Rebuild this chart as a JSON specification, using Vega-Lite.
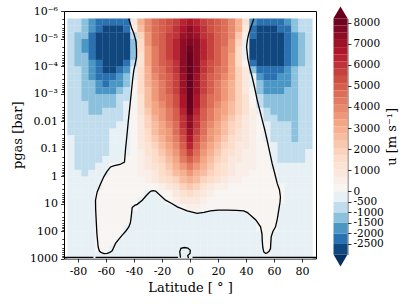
{
"$schema":"https://vega.github.io/schema/vega-lite/v6.json",
"background":"white",
"padding":{"left":11,"top":4,"right":0,"bottom":0},
"bounds":"flush",
"spacing":17.5,
"config":{"font":"DejaVu Serif","view":{"stroke":"#000","strokeWidth":1},
"axis":{"grid":false,"domain":false,"tickColor":"#000","labelColor":"#000","titleColor":"#000","titleFontWeight":"normal","labelFontSize":11,"titleFontSize":13,"tickSize":3.5,"tickWidth":0.8,"labelPadding":3,"labelOverlap":false}},
"resolve":{"scale":{"color":"independent"}},
"datasets":{
"field":[
{"lat":-85,"lp":-5.6,"u":-700},{"lat":-80,"lp":-5.6,"u":-900},{"lat":-75,"lp":-5.6,"u":-1250},{"lat":-70,"lp":-5.6,"u":-1700},{"lat":-65,"lp":-5.6,"u":-2200},{"lat":-60,"lp":-5.6,"u":-2300},{"lat":-55,"lp":-5.6,"u":-2400},{"lat":-50,"lp":-5.6,"u":-2400},{"lat":-45,"lp":-5.6,"u":-2200},{"lat":-40,"lp":-5.6,"u":900},{"lat":-35,"lp":-5.6,"u":2800},{"lat":-30,"lp":-5.6,"u":4000},{"lat":-25,"lp":-5.6,"u":4500},{"lat":-20,"lp":-5.6,"u":4900},{"lat":-15,"lp":-5.6,"u":5300},{"lat":-10,"lp":-5.6,"u":5800},{"lat":-5,"lp":-5.6,"u":6400},{"lat":0,"lp":-5.6,"u":6800},{"lat":5,"lp":-5.6,"u":6400},{"lat":10,"lp":-5.6,"u":5800},{"lat":15,"lp":-5.6,"u":5300},{"lat":20,"lp":-5.6,"u":4900},{"lat":25,"lp":-5.6,"u":4500},{"lat":30,"lp":-5.6,"u":4000},{"lat":35,"lp":-5.6,"u":2900},{"lat":40,"lp":-5.6,"u":1300},{"lat":45,"lp":-5.6,"u":-1800},{"lat":50,"lp":-5.6,"u":-2300},{"lat":55,"lp":-5.6,"u":-2400},{"lat":60,"lp":-5.6,"u":-2400},{"lat":65,"lp":-5.6,"u":-2250},{"lat":70,"lp":-5.6,"u":-1800},{"lat":75,"lp":-5.6,"u":-1300},{"lat":80,"lp":-5.6,"u":-900},{"lat":85,"lp":-5.6,"u":-600},
{"lat":-85,"lp":-5.35,"u":-750},{"lat":-80,"lp":-5.35,"u":-1000},{"lat":-75,"lp":-5.35,"u":-1400},{"lat":-70,"lp":-5.35,"u":-1900},{"lat":-65,"lp":-5.35,"u":-2450},{"lat":-60,"lp":-5.35,"u":-2600},{"lat":-55,"lp":-5.35,"u":-2650},{"lat":-50,"lp":-5.35,"u":-2600},{"lat":-45,"lp":-5.35,"u":-2300},{"lat":-40,"lp":-5.35,"u":500},{"lat":-35,"lp":-5.35,"u":2500},{"lat":-30,"lp":-5.35,"u":3900},{"lat":-25,"lp":-5.35,"u":4600},{"lat":-20,"lp":-5.35,"u":5000},{"lat":-15,"lp":-5.35,"u":5400},{"lat":-10,"lp":-5.35,"u":5900},{"lat":-5,"lp":-5.35,"u":6600},{"lat":0,"lp":-5.35,"u":7200},{"lat":5,"lp":-5.35,"u":6600},{"lat":10,"lp":-5.35,"u":5900},{"lat":15,"lp":-5.35,"u":5400},{"lat":20,"lp":-5.35,"u":5000},{"lat":25,"lp":-5.35,"u":4600},{"lat":30,"lp":-5.35,"u":4000},{"lat":35,"lp":-5.35,"u":2800},{"lat":40,"lp":-5.35,"u":800},{"lat":45,"lp":-5.35,"u":-2100},{"lat":50,"lp":-5.35,"u":-2550},{"lat":55,"lp":-5.35,"u":-2650},{"lat":60,"lp":-5.35,"u":-2650},{"lat":65,"lp":-5.35,"u":-2500},{"lat":70,"lp":-5.35,"u":-2100},{"lat":75,"lp":-5.35,"u":-1500},{"lat":80,"lp":-5.35,"u":-1000},{"lat":85,"lp":-5.35,"u":-650},
{"lat":-85,"lp":-5.1,"u":-800},{"lat":-80,"lp":-5.1,"u":-1050},{"lat":-75,"lp":-5.1,"u":-1500},{"lat":-70,"lp":-5.1,"u":-2050},{"lat":-65,"lp":-5.1,"u":-2600},{"lat":-60,"lp":-5.1,"u":-2800},{"lat":-55,"lp":-5.1,"u":-2850},{"lat":-50,"lp":-5.1,"u":-2800},{"lat":-45,"lp":-5.1,"u":-2550},{"lat":-40,"lp":-5.1,"u":-900},{"lat":-35,"lp":-5.1,"u":1800},{"lat":-30,"lp":-5.1,"u":3600},{"lat":-25,"lp":-5.1,"u":4500},{"lat":-20,"lp":-5.1,"u":5100},{"lat":-15,"lp":-5.1,"u":5600},{"lat":-10,"lp":-5.1,"u":6100},{"lat":-5,"lp":-5.1,"u":6900},{"lat":0,"lp":-5.1,"u":7500},{"lat":5,"lp":-5.1,"u":6900},{"lat":10,"lp":-5.1,"u":6100},{"lat":15,"lp":-5.1,"u":5600},{"lat":20,"lp":-5.1,"u":5100},{"lat":25,"lp":-5.1,"u":4600},{"lat":30,"lp":-5.1,"u":3800},{"lat":35,"lp":-5.1,"u":2200},{"lat":40,"lp":-5.1,"u":400},{"lat":45,"lp":-5.1,"u":-2400},{"lat":50,"lp":-5.1,"u":-2800},{"lat":55,"lp":-5.1,"u":-2850},{"lat":60,"lp":-5.1,"u":-2850},{"lat":65,"lp":-5.1,"u":-2700},{"lat":70,"lp":-5.1,"u":-2300},{"lat":75,"lp":-5.1,"u":-1700},{"lat":80,"lp":-5.1,"u":-1150},{"lat":85,"lp":-5.1,"u":-700},
{"lat":-85,"lp":-4.85,"u":-800},{"lat":-80,"lp":-4.85,"u":-1100},{"lat":-75,"lp":-4.85,"u":-1550},{"lat":-70,"lp":-4.85,"u":-2100},{"lat":-65,"lp":-4.85,"u":-2650},{"lat":-60,"lp":-4.85,"u":-2900},{"lat":-55,"lp":-4.85,"u":-2950},{"lat":-50,"lp":-4.85,"u":-2900},{"lat":-45,"lp":-4.85,"u":-2700},{"lat":-40,"lp":-4.85,"u":-1300},{"lat":-35,"lp":-4.85,"u":1500},{"lat":-30,"lp":-4.85,"u":3500},{"lat":-25,"lp":-4.85,"u":4500},{"lat":-20,"lp":-4.85,"u":5100},{"lat":-15,"lp":-4.85,"u":5700},{"lat":-10,"lp":-4.85,"u":6300},{"lat":-5,"lp":-4.85,"u":7200},{"lat":0,"lp":-4.85,"u":7800},{"lat":5,"lp":-4.85,"u":7200},{"lat":10,"lp":-4.85,"u":6300},{"lat":15,"lp":-4.85,"u":5700},{"lat":20,"lp":-4.85,"u":5100},{"lat":25,"lp":-4.85,"u":4500},{"lat":30,"lp":-4.85,"u":3600},{"lat":35,"lp":-4.85,"u":1800},{"lat":40,"lp":-4.85,"u":-100},{"lat":45,"lp":-4.85,"u":-2600},{"lat":50,"lp":-4.85,"u":-2900},{"lat":55,"lp":-4.85,"u":-2950},{"lat":60,"lp":-4.85,"u":-2950},{"lat":65,"lp":-4.85,"u":-2800},{"lat":70,"lp":-4.85,"u":-2400},{"lat":75,"lp":-4.85,"u":-1750},{"lat":80,"lp":-4.85,"u":-1200},{"lat":85,"lp":-4.85,"u":-750},
{"lat":-85,"lp":-4.6,"u":-800},{"lat":-80,"lp":-4.6,"u":-1100},{"lat":-75,"lp":-4.6,"u":-1550},{"lat":-70,"lp":-4.6,"u":-2100},{"lat":-65,"lp":-4.6,"u":-2650},{"lat":-60,"lp":-4.6,"u":-2950},{"lat":-55,"lp":-4.6,"u":-2950},{"lat":-50,"lp":-4.6,"u":-2950},{"lat":-45,"lp":-4.6,"u":-2750},{"lat":-40,"lp":-4.6,"u":-1400},{"lat":-35,"lp":-4.6,"u":1400},{"lat":-30,"lp":-4.6,"u":3400},{"lat":-25,"lp":-4.6,"u":4400},{"lat":-20,"lp":-4.6,"u":5000},{"lat":-15,"lp":-4.6,"u":5600},{"lat":-10,"lp":-4.6,"u":6300},{"lat":-5,"lp":-4.6,"u":7300},{"lat":0,"lp":-4.6,"u":8100},{"lat":5,"lp":-4.6,"u":7300},{"lat":10,"lp":-4.6,"u":6300},{"lat":15,"lp":-4.6,"u":5600},{"lat":20,"lp":-4.6,"u":5000},{"lat":25,"lp":-4.6,"u":4400},{"lat":30,"lp":-4.6,"u":3500},{"lat":35,"lp":-4.6,"u":1700},{"lat":40,"lp":-4.6,"u":-200},{"lat":45,"lp":-4.6,"u":-2700},{"lat":50,"lp":-4.6,"u":-2950},{"lat":55,"lp":-4.6,"u":-2950},{"lat":60,"lp":-4.6,"u":-2950},{"lat":65,"lp":-4.6,"u":-2850},{"lat":70,"lp":-4.6,"u":-2400},{"lat":75,"lp":-4.6,"u":-1750},{"lat":80,"lp":-4.6,"u":-1200},{"lat":85,"lp":-4.6,"u":-750},
{"lat":-85,"lp":-4.35,"u":-800},{"lat":-80,"lp":-4.35,"u":-1100},{"lat":-75,"lp":-4.35,"u":-1500},{"lat":-70,"lp":-4.35,"u":-2050},{"lat":-65,"lp":-4.35,"u":-2600},{"lat":-60,"lp":-4.35,"u":-2900},{"lat":-55,"lp":-4.35,"u":-2950},{"lat":-50,"lp":-4.35,"u":-2900},{"lat":-45,"lp":-4.35,"u":-2650},{"lat":-40,"lp":-4.35,"u":-1200},{"lat":-35,"lp":-4.35,"u":1300},{"lat":-30,"lp":-4.35,"u":3300},{"lat":-25,"lp":-4.35,"u":4300},{"lat":-20,"lp":-4.35,"u":4900},{"lat":-15,"lp":-4.35,"u":5500},{"lat":-10,"lp":-4.35,"u":6200},{"lat":-5,"lp":-4.35,"u":7300},{"lat":0,"lp":-4.35,"u":8300},{"lat":5,"lp":-4.35,"u":7300},{"lat":10,"lp":-4.35,"u":6200},{"lat":15,"lp":-4.35,"u":5500},{"lat":20,"lp":-4.35,"u":4900},{"lat":25,"lp":-4.35,"u":4300},{"lat":30,"lp":-4.35,"u":3400},{"lat":35,"lp":-4.35,"u":1600},{"lat":40,"lp":-4.35,"u":-300},{"lat":45,"lp":-4.35,"u":-2650},{"lat":50,"lp":-4.35,"u":-2950},{"lat":55,"lp":-4.35,"u":-2950},{"lat":60,"lp":-4.35,"u":-2950},{"lat":65,"lp":-4.35,"u":-2750},{"lat":70,"lp":-4.35,"u":-2300},{"lat":75,"lp":-4.35,"u":-1700},{"lat":80,"lp":-4.35,"u":-1150},{"lat":85,"lp":-4.35,"u":-750},
{"lat":-85,"lp":-4.1,"u":-750},{"lat":-80,"lp":-4.1,"u":-1050},{"lat":-75,"lp":-4.1,"u":-1450},{"lat":-70,"lp":-4.1,"u":-1950},{"lat":-65,"lp":-4.1,"u":-2500},{"lat":-60,"lp":-4.1,"u":-2800},{"lat":-55,"lp":-4.1,"u":-2800},{"lat":-50,"lp":-4.1,"u":-2700},{"lat":-45,"lp":-4.1,"u":-2350},{"lat":-40,"lp":-4.1,"u":-800},{"lat":-35,"lp":-4.1,"u":1300},{"lat":-30,"lp":-4.1,"u":3100},{"lat":-25,"lp":-4.1,"u":4200},{"lat":-20,"lp":-4.1,"u":4800},{"lat":-15,"lp":-4.1,"u":5300},{"lat":-10,"lp":-4.1,"u":6000},{"lat":-5,"lp":-4.1,"u":7200},{"lat":0,"lp":-4.1,"u":8400},{"lat":5,"lp":-4.1,"u":7200},{"lat":10,"lp":-4.1,"u":6000},{"lat":15,"lp":-4.1,"u":5300},{"lat":20,"lp":-4.1,"u":4800},{"lat":25,"lp":-4.1,"u":4200},{"lat":30,"lp":-4.1,"u":3200},{"lat":35,"lp":-4.1,"u":1700},{"lat":40,"lp":-4.1,"u":200},{"lat":45,"lp":-4.1,"u":-2300},{"lat":50,"lp":-4.1,"u":-2800},{"lat":55,"lp":-4.1,"u":-2850},{"lat":60,"lp":-4.1,"u":-2850},{"lat":65,"lp":-4.1,"u":-2650},{"lat":70,"lp":-4.1,"u":-2200},{"lat":75,"lp":-4.1,"u":-1600},{"lat":80,"lp":-4.1,"u":-1100},{"lat":85,"lp":-4.1,"u":-700},
{"lat":-85,"lp":-3.85,"u":-700},{"lat":-80,"lp":-3.85,"u":-1000},{"lat":-75,"lp":-3.85,"u":-1350},{"lat":-70,"lp":-3.85,"u":-1800},{"lat":-65,"lp":-3.85,"u":-2350},{"lat":-60,"lp":-3.85,"u":-2600},{"lat":-55,"lp":-3.85,"u":-2550},{"lat":-50,"lp":-3.85,"u":-2350},{"lat":-45,"lp":-3.85,"u":-1800},{"lat":-40,"lp":-3.85,"u":-300},{"lat":-35,"lp":-3.85,"u":1400},{"lat":-30,"lp":-3.85,"u":3000},{"lat":-25,"lp":-3.85,"u":4100},{"lat":-20,"lp":-3.85,"u":4700},{"lat":-15,"lp":-3.85,"u":5200},{"lat":-10,"lp":-3.85,"u":5900},{"lat":-5,"lp":-3.85,"u":7200},{"lat":0,"lp":-3.85,"u":8500},{"lat":5,"lp":-3.85,"u":7200},{"lat":10,"lp":-3.85,"u":5900},{"lat":15,"lp":-3.85,"u":5200},{"lat":20,"lp":-3.85,"u":4700},{"lat":25,"lp":-3.85,"u":4100},{"lat":30,"lp":-3.85,"u":3200},{"lat":35,"lp":-3.85,"u":2000},{"lat":40,"lp":-3.85,"u":700},{"lat":45,"lp":-3.85,"u":-1200},{"lat":50,"lp":-3.85,"u":-2300},{"lat":55,"lp":-3.85,"u":-2450},{"lat":60,"lp":-3.85,"u":-2450},{"lat":65,"lp":-3.85,"u":-2300},{"lat":70,"lp":-3.85,"u":-2000},{"lat":75,"lp":-3.85,"u":-1500},{"lat":80,"lp":-3.85,"u":-1000},{"lat":85,"lp":-3.85,"u":-650},
{"lat":-85,"lp":-3.6,"u":-650},{"lat":-80,"lp":-3.6,"u":-950},{"lat":-75,"lp":-3.6,"u":-1250},{"lat":-70,"lp":-3.6,"u":-1650},{"lat":-65,"lp":-3.6,"u":-2150},{"lat":-60,"lp":-3.6,"u":-2300},{"lat":-55,"lp":-3.6,"u":-2250},{"lat":-50,"lp":-3.6,"u":-2000},{"lat":-45,"lp":-3.6,"u":-1400},{"lat":-40,"lp":-3.6,"u":-100},{"lat":-35,"lp":-3.6,"u":1400},{"lat":-30,"lp":-3.6,"u":2900},{"lat":-25,"lp":-3.6,"u":3900},{"lat":-20,"lp":-3.6,"u":4500},{"lat":-15,"lp":-3.6,"u":5000},{"lat":-10,"lp":-3.6,"u":5700},{"lat":-5,"lp":-3.6,"u":7100},{"lat":0,"lp":-3.6,"u":8500},{"lat":5,"lp":-3.6,"u":7100},{"lat":10,"lp":-3.6,"u":5700},{"lat":15,"lp":-3.6,"u":5000},{"lat":20,"lp":-3.6,"u":4500},{"lat":25,"lp":-3.6,"u":3900},{"lat":30,"lp":-3.6,"u":3100},{"lat":35,"lp":-3.6,"u":2000},{"lat":40,"lp":-3.6,"u":800},{"lat":45,"lp":-3.6,"u":-500},{"lat":50,"lp":-3.6,"u":-1800},{"lat":55,"lp":-3.6,"u":-2100},{"lat":60,"lp":-3.6,"u":-2100},{"lat":65,"lp":-3.6,"u":-2000},{"lat":70,"lp":-3.6,"u":-1750},{"lat":75,"lp":-3.6,"u":-1400},{"lat":80,"lp":-3.6,"u":-950},{"lat":85,"lp":-3.6,"u":-600},
{"lat":-85,"lp":-3.35,"u":-600},{"lat":-80,"lp":-3.35,"u":-900},{"lat":-75,"lp":-3.35,"u":-1150},{"lat":-70,"lp":-3.35,"u":-1500},{"lat":-65,"lp":-3.35,"u":-1950},{"lat":-60,"lp":-3.35,"u":-2050},{"lat":-55,"lp":-3.35,"u":-1950},{"lat":-50,"lp":-3.35,"u":-1700},{"lat":-45,"lp":-3.35,"u":-1100},{"lat":-40,"lp":-3.35,"u":100},{"lat":-35,"lp":-3.35,"u":1400},{"lat":-30,"lp":-3.35,"u":2800},{"lat":-25,"lp":-3.35,"u":3700},{"lat":-20,"lp":-3.35,"u":4300},{"lat":-15,"lp":-3.35,"u":4900},{"lat":-10,"lp":-3.35,"u":5600},{"lat":-5,"lp":-3.35,"u":7000},{"lat":0,"lp":-3.35,"u":8500},{"lat":5,"lp":-3.35,"u":7000},{"lat":10,"lp":-3.35,"u":5600},{"lat":15,"lp":-3.35,"u":4900},{"lat":20,"lp":-3.35,"u":4300},{"lat":25,"lp":-3.35,"u":3700},{"lat":30,"lp":-3.35,"u":3000},{"lat":35,"lp":-3.35,"u":2000},{"lat":40,"lp":-3.35,"u":1000},{"lat":45,"lp":-3.35,"u":-100},{"lat":50,"lp":-3.35,"u":-1500},{"lat":55,"lp":-3.35,"u":-1850},{"lat":60,"lp":-3.35,"u":-1900},{"lat":65,"lp":-3.35,"u":-1800},{"lat":70,"lp":-3.35,"u":-1600},{"lat":75,"lp":-3.35,"u":-1250},{"lat":80,"lp":-3.35,"u":-900},{"lat":85,"lp":-3.35,"u":-600},
{"lat":-85,"lp":-3.1,"u":-600},{"lat":-80,"lp":-3.1,"u":-850},{"lat":-75,"lp":-3.1,"u":-1100},{"lat":-70,"lp":-3.1,"u":-1400},{"lat":-65,"lp":-3.1,"u":-1700},{"lat":-60,"lp":-3.1,"u":-1750},{"lat":-55,"lp":-3.1,"u":-1600},{"lat":-50,"lp":-3.1,"u":-1350},{"lat":-45,"lp":-3.1,"u":-800},{"lat":-40,"lp":-3.1,"u":250},{"lat":-35,"lp":-3.1,"u":1400},{"lat":-30,"lp":-3.1,"u":2700},{"lat":-25,"lp":-3.1,"u":3600},{"lat":-20,"lp":-3.1,"u":4200},{"lat":-15,"lp":-3.1,"u":4800},{"lat":-10,"lp":-3.1,"u":5500},{"lat":-5,"lp":-3.1,"u":6900},{"lat":0,"lp":-3.1,"u":8400},{"lat":5,"lp":-3.1,"u":6900},{"lat":10,"lp":-3.1,"u":5500},{"lat":15,"lp":-3.1,"u":4800},{"lat":20,"lp":-3.1,"u":4200},{"lat":25,"lp":-3.1,"u":3600},{"lat":30,"lp":-3.1,"u":2900},{"lat":35,"lp":-3.1,"u":2000},{"lat":40,"lp":-3.1,"u":1000},{"lat":45,"lp":-3.1,"u":100},{"lat":50,"lp":-3.1,"u":-1200},{"lat":55,"lp":-3.1,"u":-1600},{"lat":60,"lp":-3.1,"u":-1700},{"lat":65,"lp":-3.1,"u":-1650},{"lat":70,"lp":-3.1,"u":-1500},{"lat":75,"lp":-3.1,"u":-1200},{"lat":80,"lp":-3.1,"u":-850},{"lat":85,"lp":-3.1,"u":-600},
{"lat":-85,"lp":-2.85,"u":-550},{"lat":-80,"lp":-2.85,"u":-800},{"lat":-75,"lp":-2.85,"u":-1050},{"lat":-70,"lp":-2.85,"u":-1300},{"lat":-65,"lp":-2.85,"u":-1500},{"lat":-60,"lp":-2.85,"u":-1450},{"lat":-55,"lp":-2.85,"u":-1300},{"lat":-50,"lp":-2.85,"u":-1000},{"lat":-45,"lp":-2.85,"u":-600},{"lat":-40,"lp":-2.85,"u":300},{"lat":-35,"lp":-2.85,"u":1300},{"lat":-30,"lp":-2.85,"u":2600},{"lat":-25,"lp":-2.85,"u":3500},{"lat":-20,"lp":-2.85,"u":4100},{"lat":-15,"lp":-2.85,"u":4700},{"lat":-10,"lp":-2.85,"u":5400},{"lat":-5,"lp":-2.85,"u":6800},{"lat":0,"lp":-2.85,"u":8300},{"lat":5,"lp":-2.85,"u":6800},{"lat":10,"lp":-2.85,"u":5400},{"lat":15,"lp":-2.85,"u":4700},{"lat":20,"lp":-2.85,"u":4100},{"lat":25,"lp":-2.85,"u":3500},{"lat":30,"lp":-2.85,"u":2800},{"lat":35,"lp":-2.85,"u":2000},{"lat":40,"lp":-2.85,"u":1100},{"lat":45,"lp":-2.85,"u":250},{"lat":50,"lp":-2.85,"u":-900},{"lat":55,"lp":-2.85,"u":-1350},{"lat":60,"lp":-2.85,"u":-1500},{"lat":65,"lp":-2.85,"u":-1500},{"lat":70,"lp":-2.85,"u":-1400},{"lat":75,"lp":-2.85,"u":-1150},{"lat":80,"lp":-2.85,"u":-800},{"lat":85,"lp":-2.85,"u":-550},
{"lat":-85,"lp":-2.6,"u":-550},{"lat":-80,"lp":-2.6,"u":-800},{"lat":-75,"lp":-2.6,"u":-1000},{"lat":-70,"lp":-2.6,"u":-1200},{"lat":-65,"lp":-2.6,"u":-1300},{"lat":-60,"lp":-2.6,"u":-1250},{"lat":-55,"lp":-2.6,"u":-1050},{"lat":-50,"lp":-2.6,"u":-800},{"lat":-45,"lp":-2.6,"u":-450},{"lat":-40,"lp":-2.6,"u":300},{"lat":-35,"lp":-2.6,"u":1200},{"lat":-30,"lp":-2.6,"u":2400},{"lat":-25,"lp":-2.6,"u":3300},{"lat":-20,"lp":-2.6,"u":3900},{"lat":-15,"lp":-2.6,"u":4500},{"lat":-10,"lp":-2.6,"u":5300},{"lat":-5,"lp":-2.6,"u":6700},{"lat":0,"lp":-2.6,"u":8200},{"lat":5,"lp":-2.6,"u":6700},{"lat":10,"lp":-2.6,"u":5300},{"lat":15,"lp":-2.6,"u":4500},{"lat":20,"lp":-2.6,"u":3900},{"lat":25,"lp":-2.6,"u":3300},{"lat":30,"lp":-2.6,"u":2600},{"lat":35,"lp":-2.6,"u":1900},{"lat":40,"lp":-2.6,"u":1100},{"lat":45,"lp":-2.6,"u":300},{"lat":50,"lp":-2.6,"u":-600},{"lat":55,"lp":-2.6,"u":-1100},{"lat":60,"lp":-2.6,"u":-1300},{"lat":65,"lp":-2.6,"u":-1350},{"lat":70,"lp":-2.6,"u":-1300},{"lat":75,"lp":-2.6,"u":-1100},{"lat":80,"lp":-2.6,"u":-800},{"lat":85,"lp":-2.6,"u":-550},
{"lat":-85,"lp":-2.35,"u":-550},{"lat":-80,"lp":-2.35,"u":-780},{"lat":-75,"lp":-2.35,"u":-950},{"lat":-70,"lp":-2.35,"u":-1080},{"lat":-65,"lp":-2.35,"u":-1100},{"lat":-60,"lp":-2.35,"u":-1000},{"lat":-55,"lp":-2.35,"u":-850},{"lat":-50,"lp":-2.35,"u":-650},{"lat":-45,"lp":-2.35,"u":-350},{"lat":-40,"lp":-2.35,"u":300},{"lat":-35,"lp":-2.35,"u":1100},{"lat":-30,"lp":-2.35,"u":2200},{"lat":-25,"lp":-2.35,"u":3100},{"lat":-20,"lp":-2.35,"u":3700},{"lat":-15,"lp":-2.35,"u":4300},{"lat":-10,"lp":-2.35,"u":5100},{"lat":-5,"lp":-2.35,"u":6400},{"lat":0,"lp":-2.35,"u":7900},{"lat":5,"lp":-2.35,"u":6400},{"lat":10,"lp":-2.35,"u":5100},{"lat":15,"lp":-2.35,"u":4300},{"lat":20,"lp":-2.35,"u":3700},{"lat":25,"lp":-2.35,"u":3100},{"lat":30,"lp":-2.35,"u":2400},{"lat":35,"lp":-2.35,"u":1800},{"lat":40,"lp":-2.35,"u":1100},{"lat":45,"lp":-2.35,"u":400},{"lat":50,"lp":-2.35,"u":-100},{"lat":55,"lp":-2.35,"u":-900},{"lat":60,"lp":-2.35,"u":-1100},{"lat":65,"lp":-2.35,"u":-1200},{"lat":70,"lp":-2.35,"u":-1200},{"lat":75,"lp":-2.35,"u":-1050},{"lat":80,"lp":-2.35,"u":-800},{"lat":85,"lp":-2.35,"u":-550},
{"lat":-85,"lp":-2.1,"u":-550},{"lat":-80,"lp":-2.1,"u":-750},{"lat":-75,"lp":-2.1,"u":-850},{"lat":-70,"lp":-2.1,"u":-900},{"lat":-65,"lp":-2.1,"u":-900},{"lat":-60,"lp":-2.1,"u":-820},{"lat":-55,"lp":-2.1,"u":-700},{"lat":-50,"lp":-2.1,"u":-550},{"lat":-45,"lp":-2.1,"u":-250},{"lat":-40,"lp":-2.1,"u":300},{"lat":-35,"lp":-2.1,"u":1000},{"lat":-30,"lp":-2.1,"u":2000},{"lat":-25,"lp":-2.1,"u":2900},{"lat":-20,"lp":-2.1,"u":3500},{"lat":-15,"lp":-2.1,"u":4100},{"lat":-10,"lp":-2.1,"u":4900},{"lat":-5,"lp":-2.1,"u":6100},{"lat":0,"lp":-2.1,"u":7500},{"lat":5,"lp":-2.1,"u":6100},{"lat":10,"lp":-2.1,"u":4900},{"lat":15,"lp":-2.1,"u":4100},{"lat":20,"lp":-2.1,"u":3500},{"lat":25,"lp":-2.1,"u":2900},{"lat":30,"lp":-2.1,"u":2200},{"lat":35,"lp":-2.1,"u":1600},{"lat":40,"lp":-2.1,"u":1000},{"lat":45,"lp":-2.1,"u":400},{"lat":50,"lp":-2.1,"u":0},{"lat":55,"lp":-2.1,"u":-700},{"lat":60,"lp":-2.1,"u":-950},{"lat":65,"lp":-2.1,"u":-1050},{"lat":70,"lp":-2.1,"u":-1100},{"lat":75,"lp":-2.1,"u":-1100},{"lat":80,"lp":-2.1,"u":-800},{"lat":85,"lp":-2.1,"u":-550},
{"lat":-85,"lp":-1.85,"u":-550},{"lat":-80,"lp":-1.85,"u":-750},{"lat":-75,"lp":-1.85,"u":-800},{"lat":-70,"lp":-1.85,"u":-800},{"lat":-65,"lp":-1.85,"u":-760},{"lat":-60,"lp":-1.85,"u":-700},{"lat":-55,"lp":-1.85,"u":-600},{"lat":-50,"lp":-1.85,"u":-450},{"lat":-45,"lp":-1.85,"u":-200},{"lat":-40,"lp":-1.85,"u":300},{"lat":-35,"lp":-1.85,"u":900},{"lat":-30,"lp":-1.85,"u":1800},{"lat":-25,"lp":-1.85,"u":2600},{"lat":-20,"lp":-1.85,"u":3300},{"lat":-15,"lp":-1.85,"u":3900},{"lat":-10,"lp":-1.85,"u":4700},{"lat":-5,"lp":-1.85,"u":5900},{"lat":0,"lp":-1.85,"u":7200},{"lat":5,"lp":-1.85,"u":5900},{"lat":10,"lp":-1.85,"u":4700},{"lat":15,"lp":-1.85,"u":3900},{"lat":20,"lp":-1.85,"u":3300},{"lat":25,"lp":-1.85,"u":2600},{"lat":30,"lp":-1.85,"u":2000},{"lat":35,"lp":-1.85,"u":1500},{"lat":40,"lp":-1.85,"u":900},{"lat":45,"lp":-1.85,"u":400},{"lat":50,"lp":-1.85,"u":50},{"lat":55,"lp":-1.85,"u":-500},{"lat":60,"lp":-1.85,"u":-800},{"lat":65,"lp":-1.85,"u":-900},{"lat":70,"lp":-1.85,"u":-1000},{"lat":75,"lp":-1.85,"u":-1100},{"lat":80,"lp":-1.85,"u":-800},{"lat":85,"lp":-1.85,"u":-550},
{"lat":-85,"lp":-1.6,"u":-550},{"lat":-80,"lp":-1.6,"u":-700},{"lat":-75,"lp":-1.6,"u":-750},{"lat":-70,"lp":-1.6,"u":-700},{"lat":-65,"lp":-1.6,"u":-650},{"lat":-60,"lp":-1.6,"u":-600},{"lat":-55,"lp":-1.6,"u":-500},{"lat":-50,"lp":-1.6,"u":-350},{"lat":-45,"lp":-1.6,"u":-150},{"lat":-40,"lp":-1.6,"u":300},{"lat":-35,"lp":-1.6,"u":850},{"lat":-30,"lp":-1.6,"u":1600},{"lat":-25,"lp":-1.6,"u":2400},{"lat":-20,"lp":-1.6,"u":3100},{"lat":-15,"lp":-1.6,"u":3700},{"lat":-10,"lp":-1.6,"u":4500},{"lat":-5,"lp":-1.6,"u":5700},{"lat":0,"lp":-1.6,"u":6900},{"lat":5,"lp":-1.6,"u":5700},{"lat":10,"lp":-1.6,"u":4500},{"lat":15,"lp":-1.6,"u":3700},{"lat":20,"lp":-1.6,"u":3100},{"lat":25,"lp":-1.6,"u":2400},{"lat":30,"lp":-1.6,"u":1800},{"lat":35,"lp":-1.6,"u":1300},{"lat":40,"lp":-1.6,"u":850},{"lat":45,"lp":-1.6,"u":400},{"lat":50,"lp":-1.6,"u":100},{"lat":55,"lp":-1.6,"u":-350},{"lat":60,"lp":-1.6,"u":-700},{"lat":65,"lp":-1.6,"u":-800},{"lat":70,"lp":-1.6,"u":-950},{"lat":75,"lp":-1.6,"u":-1100},{"lat":80,"lp":-1.6,"u":-800},{"lat":85,"lp":-1.6,"u":-550},
{"lat":-85,"lp":-1.35,"u":-500},{"lat":-80,"lp":-1.35,"u":-700},{"lat":-75,"lp":-1.35,"u":-720},{"lat":-70,"lp":-1.35,"u":-680},{"lat":-65,"lp":-1.35,"u":-620},{"lat":-60,"lp":-1.35,"u":-550},{"lat":-55,"lp":-1.35,"u":-450},{"lat":-50,"lp":-1.35,"u":-300},{"lat":-45,"lp":-1.35,"u":-100},{"lat":-40,"lp":-1.35,"u":300},{"lat":-35,"lp":-1.35,"u":800},{"lat":-30,"lp":-1.35,"u":1400},{"lat":-25,"lp":-1.35,"u":2200},{"lat":-20,"lp":-1.35,"u":2900},{"lat":-15,"lp":-1.35,"u":3500},{"lat":-10,"lp":-1.35,"u":4300},{"lat":-5,"lp":-1.35,"u":5400},{"lat":0,"lp":-1.35,"u":6600},{"lat":5,"lp":-1.35,"u":5400},{"lat":10,"lp":-1.35,"u":4300},{"lat":15,"lp":-1.35,"u":3500},{"lat":20,"lp":-1.35,"u":2900},{"lat":25,"lp":-1.35,"u":2200},{"lat":30,"lp":-1.35,"u":1600},{"lat":35,"lp":-1.35,"u":1200},{"lat":40,"lp":-1.35,"u":800},{"lat":45,"lp":-1.35,"u":400},{"lat":50,"lp":-1.35,"u":150},{"lat":55,"lp":-1.35,"u":-50},{"lat":60,"lp":-1.35,"u":-600},{"lat":65,"lp":-1.35,"u":-750},{"lat":70,"lp":-1.35,"u":-900},{"lat":75,"lp":-1.35,"u":-1050},{"lat":80,"lp":-1.35,"u":-780},{"lat":85,"lp":-1.35,"u":-550},
{"lat":-85,"lp":-1.1,"u":-500},{"lat":-80,"lp":-1.1,"u":-680},{"lat":-75,"lp":-1.1,"u":-700},{"lat":-70,"lp":-1.1,"u":-650},{"lat":-65,"lp":-1.1,"u":-600},{"lat":-60,"lp":-1.1,"u":-530},{"lat":-55,"lp":-1.1,"u":-420},{"lat":-50,"lp":-1.1,"u":-250},{"lat":-45,"lp":-1.1,"u":-80},{"lat":-40,"lp":-1.1,"u":250},{"lat":-35,"lp":-1.1,"u":700},{"lat":-30,"lp":-1.1,"u":1200},{"lat":-25,"lp":-1.1,"u":2000},{"lat":-20,"lp":-1.1,"u":2600},{"lat":-15,"lp":-1.1,"u":3200},{"lat":-10,"lp":-1.1,"u":4000},{"lat":-5,"lp":-1.1,"u":5100},{"lat":0,"lp":-1.1,"u":6200},{"lat":5,"lp":-1.1,"u":5100},{"lat":10,"lp":-1.1,"u":4000},{"lat":15,"lp":-1.1,"u":3200},{"lat":20,"lp":-1.1,"u":2600},{"lat":25,"lp":-1.1,"u":2000},{"lat":30,"lp":-1.1,"u":1400},{"lat":35,"lp":-1.1,"u":1000},{"lat":40,"lp":-1.1,"u":700},{"lat":45,"lp":-1.1,"u":400},{"lat":50,"lp":-1.1,"u":200},{"lat":55,"lp":-1.1,"u":0},{"lat":60,"lp":-1.1,"u":-500},{"lat":65,"lp":-1.1,"u":-700},{"lat":70,"lp":-1.1,"u":-800},{"lat":75,"lp":-1.1,"u":-850},{"lat":80,"lp":-1.1,"u":-720},{"lat":85,"lp":-1.1,"u":-520},
{"lat":-85,"lp":-0.85,"u":-450},{"lat":-80,"lp":-0.85,"u":-650},{"lat":-75,"lp":-0.85,"u":-680},{"lat":-70,"lp":-0.85,"u":-640},{"lat":-65,"lp":-0.85,"u":-580},{"lat":-60,"lp":-0.85,"u":-520},{"lat":-55,"lp":-0.85,"u":-380},{"lat":-50,"lp":-0.85,"u":-200},{"lat":-45,"lp":-0.85,"u":-50},{"lat":-40,"lp":-0.85,"u":250},{"lat":-35,"lp":-0.85,"u":600},{"lat":-30,"lp":-0.85,"u":1050},{"lat":-25,"lp":-0.85,"u":1700},{"lat":-20,"lp":-0.85,"u":2300},{"lat":-15,"lp":-0.85,"u":2900},{"lat":-10,"lp":-0.85,"u":3600},{"lat":-5,"lp":-0.85,"u":4600},{"lat":0,"lp":-0.85,"u":5700},{"lat":5,"lp":-0.85,"u":4600},{"lat":10,"lp":-0.85,"u":3600},{"lat":15,"lp":-0.85,"u":2900},{"lat":20,"lp":-0.85,"u":2300},{"lat":25,"lp":-0.85,"u":1700},{"lat":30,"lp":-0.85,"u":1200},{"lat":35,"lp":-0.85,"u":850},{"lat":40,"lp":-0.85,"u":600},{"lat":45,"lp":-0.85,"u":400},{"lat":50,"lp":-0.85,"u":250},{"lat":55,"lp":-0.85,"u":50},{"lat":60,"lp":-0.85,"u":-400},{"lat":65,"lp":-0.85,"u":-650},{"lat":70,"lp":-0.85,"u":-750},{"lat":75,"lp":-0.85,"u":-750},{"lat":80,"lp":-0.85,"u":-680},{"lat":85,"lp":-0.85,"u":-500},
{"lat":-85,"lp":-0.6,"u":-420},{"lat":-80,"lp":-0.6,"u":-620},{"lat":-75,"lp":-0.6,"u":-660},{"lat":-70,"lp":-0.6,"u":-620},{"lat":-65,"lp":-0.6,"u":-560},{"lat":-60,"lp":-0.6,"u":-480},{"lat":-55,"lp":-0.6,"u":-300},{"lat":-50,"lp":-0.6,"u":-120},{"lat":-45,"lp":-0.6,"u":50},{"lat":-40,"lp":-0.6,"u":250},{"lat":-35,"lp":-0.6,"u":500},{"lat":-30,"lp":-0.6,"u":900},{"lat":-25,"lp":-0.6,"u":1450},{"lat":-20,"lp":-0.6,"u":2000},{"lat":-15,"lp":-0.6,"u":2600},{"lat":-10,"lp":-0.6,"u":3200},{"lat":-5,"lp":-0.6,"u":4100},{"lat":0,"lp":-0.6,"u":5100},{"lat":5,"lp":-0.6,"u":4100},{"lat":10,"lp":-0.6,"u":3200},{"lat":15,"lp":-0.6,"u":2600},{"lat":20,"lp":-0.6,"u":2000},{"lat":25,"lp":-0.6,"u":1500},{"lat":30,"lp":-0.6,"u":1000},{"lat":35,"lp":-0.6,"u":700},{"lat":40,"lp":-0.6,"u":500},{"lat":45,"lp":-0.6,"u":350},{"lat":50,"lp":-0.6,"u":300},{"lat":55,"lp":-0.6,"u":150},{"lat":60,"lp":-0.6,"u":-250},{"lat":65,"lp":-0.6,"u":-600},{"lat":70,"lp":-0.6,"u":-680},{"lat":75,"lp":-0.6,"u":-650},{"lat":80,"lp":-0.6,"u":-600},{"lat":85,"lp":-0.6,"u":-480},
{"lat":-85,"lp":-0.35,"u":-400},{"lat":-80,"lp":-0.35,"u":-560},{"lat":-75,"lp":-0.35,"u":-600},{"lat":-70,"lp":-0.35,"u":-540},{"lat":-65,"lp":-0.35,"u":-450},{"lat":-60,"lp":-0.35,"u":-250},{"lat":-55,"lp":-0.35,"u":30},{"lat":-50,"lp":-0.35,"u":150},{"lat":-45,"lp":-0.35,"u":200},{"lat":-40,"lp":-0.35,"u":250},{"lat":-35,"lp":-0.35,"u":450},{"lat":-30,"lp":-0.35,"u":750},{"lat":-25,"lp":-0.35,"u":1200},{"lat":-20,"lp":-0.35,"u":1700},{"lat":-15,"lp":-0.35,"u":2200},{"lat":-10,"lp":-0.35,"u":2800},{"lat":-5,"lp":-0.35,"u":3500},{"lat":0,"lp":-0.35,"u":4400},{"lat":5,"lp":-0.35,"u":3500},{"lat":10,"lp":-0.35,"u":2800},{"lat":15,"lp":-0.35,"u":2200},{"lat":20,"lp":-0.35,"u":1700},{"lat":25,"lp":-0.35,"u":1250},{"lat":30,"lp":-0.35,"u":850},{"lat":35,"lp":-0.35,"u":600},{"lat":40,"lp":-0.35,"u":450},{"lat":45,"lp":-0.35,"u":350},{"lat":50,"lp":-0.35,"u":320},{"lat":55,"lp":-0.35,"u":220},{"lat":60,"lp":-0.35,"u":-50},{"lat":65,"lp":-0.35,"u":-450},{"lat":70,"lp":-0.35,"u":-480},{"lat":75,"lp":-0.35,"u":-470},{"lat":80,"lp":-0.35,"u":-450},{"lat":85,"lp":-0.35,"u":-400},
{"lat":-85,"lp":-0.1,"u":-380},{"lat":-80,"lp":-0.1,"u":-480},{"lat":-75,"lp":-0.1,"u":-510},{"lat":-70,"lp":-0.1,"u":-470},{"lat":-65,"lp":-0.1,"u":-350},{"lat":-60,"lp":-0.1,"u":-50},{"lat":-55,"lp":-0.1,"u":100},{"lat":-50,"lp":-0.1,"u":180},{"lat":-45,"lp":-0.1,"u":200},{"lat":-40,"lp":-0.1,"u":250},{"lat":-35,"lp":-0.1,"u":400},{"lat":-30,"lp":-0.1,"u":620},{"lat":-25,"lp":-0.1,"u":1000},{"lat":-20,"lp":-0.1,"u":1400},{"lat":-15,"lp":-0.1,"u":1900},{"lat":-10,"lp":-0.1,"u":2400},{"lat":-5,"lp":-0.1,"u":3000},{"lat":0,"lp":-0.1,"u":3700},{"lat":5,"lp":-0.1,"u":3000},{"lat":10,"lp":-0.1,"u":2400},{"lat":15,"lp":-0.1,"u":1900},{"lat":20,"lp":-0.1,"u":1400},{"lat":25,"lp":-0.1,"u":1050},{"lat":30,"lp":-0.1,"u":700},{"lat":35,"lp":-0.1,"u":500},{"lat":40,"lp":-0.1,"u":400},{"lat":45,"lp":-0.1,"u":330},{"lat":50,"lp":-0.1,"u":320},{"lat":55,"lp":-0.1,"u":270},{"lat":60,"lp":-0.1,"u":50},{"lat":65,"lp":-0.1,"u":-300},{"lat":70,"lp":-0.1,"u":-380},{"lat":75,"lp":-0.1,"u":-380},{"lat":80,"lp":-0.1,"u":-360},{"lat":85,"lp":-0.1,"u":-320},
{"lat":-85,"lp":0.15,"u":-300},{"lat":-80,"lp":0.15,"u":-350},{"lat":-75,"lp":0.15,"u":-350},{"lat":-70,"lp":0.15,"u":-300},{"lat":-65,"lp":0.15,"u":-150},{"lat":-60,"lp":0.15,"u":80},{"lat":-55,"lp":0.15,"u":200},{"lat":-50,"lp":0.15,"u":200},{"lat":-45,"lp":0.15,"u":200},{"lat":-40,"lp":0.15,"u":220},{"lat":-35,"lp":0.15,"u":320},{"lat":-30,"lp":0.15,"u":480},{"lat":-25,"lp":0.15,"u":750},{"lat":-20,"lp":0.15,"u":1050},{"lat":-15,"lp":0.15,"u":1400},{"lat":-10,"lp":0.15,"u":1850},{"lat":-5,"lp":0.15,"u":2400},{"lat":0,"lp":0.15,"u":3000},{"lat":5,"lp":0.15,"u":2450},{"lat":10,"lp":0.15,"u":1900},{"lat":15,"lp":0.15,"u":1450},{"lat":20,"lp":0.15,"u":1100},{"lat":25,"lp":0.15,"u":800},{"lat":30,"lp":0.15,"u":550},{"lat":35,"lp":0.15,"u":400},{"lat":40,"lp":0.15,"u":320},{"lat":45,"lp":0.15,"u":300},{"lat":50,"lp":0.15,"u":300},{"lat":55,"lp":0.15,"u":280},{"lat":60,"lp":0.15,"u":130},{"lat":65,"lp":0.15,"u":-100},{"lat":70,"lp":0.15,"u":-250},{"lat":75,"lp":0.15,"u":-280},{"lat":80,"lp":0.15,"u":-280},{"lat":85,"lp":0.15,"u":-260},
{"lat":-85,"lp":0.4,"u":-250},{"lat":-80,"lp":0.4,"u":-280},{"lat":-75,"lp":0.4,"u":-270},{"lat":-70,"lp":0.4,"u":-220},{"lat":-65,"lp":0.4,"u":-60},{"lat":-60,"lp":0.4,"u":150},{"lat":-55,"lp":0.4,"u":250},{"lat":-50,"lp":0.4,"u":220},{"lat":-45,"lp":0.4,"u":180},{"lat":-40,"lp":0.4,"u":150},{"lat":-35,"lp":0.4,"u":120},{"lat":-30,"lp":0.4,"u":120},{"lat":-25,"lp":0.4,"u":250},{"lat":-20,"lp":0.4,"u":450},{"lat":-15,"lp":0.4,"u":700},{"lat":-10,"lp":0.4,"u":1200},{"lat":-5,"lp":0.4,"u":1750},{"lat":0,"lp":0.4,"u":2300},{"lat":5,"lp":0.4,"u":1800},{"lat":10,"lp":0.4,"u":1250},{"lat":15,"lp":0.4,"u":800},{"lat":20,"lp":0.4,"u":550},{"lat":25,"lp":0.4,"u":400},{"lat":30,"lp":0.4,"u":320},{"lat":35,"lp":0.4,"u":280},{"lat":40,"lp":0.4,"u":260},{"lat":45,"lp":0.4,"u":270},{"lat":50,"lp":0.4,"u":300},{"lat":55,"lp":0.4,"u":290},{"lat":60,"lp":0.4,"u":160},{"lat":65,"lp":0.4,"u":0},{"lat":70,"lp":0.4,"u":-200},{"lat":75,"lp":0.4,"u":-230},{"lat":80,"lp":0.4,"u":-240},{"lat":85,"lp":0.4,"u":-230},
{"lat":-85,"lp":0.65,"u":-220},{"lat":-80,"lp":0.65,"u":-240},{"lat":-75,"lp":0.65,"u":-220},{"lat":-70,"lp":0.65,"u":-150},{"lat":-65,"lp":0.65,"u":30},{"lat":-60,"lp":0.65,"u":220},{"lat":-55,"lp":0.65,"u":300},{"lat":-50,"lp":0.65,"u":220},{"lat":-45,"lp":0.65,"u":150},{"lat":-40,"lp":0.65,"u":100},{"lat":-35,"lp":0.65,"u":40},{"lat":-30,"lp":0.65,"u":-60},{"lat":-25,"lp":0.65,"u":-60},{"lat":-20,"lp":0.65,"u":40},{"lat":-15,"lp":0.65,"u":300},{"lat":-10,"lp":0.65,"u":700},{"lat":-5,"lp":0.65,"u":1200},{"lat":0,"lp":0.65,"u":1600},{"lat":5,"lp":0.65,"u":1250},{"lat":10,"lp":0.65,"u":800},{"lat":15,"lp":0.65,"u":450},{"lat":20,"lp":0.65,"u":300},{"lat":25,"lp":0.65,"u":250},{"lat":30,"lp":0.65,"u":230},{"lat":35,"lp":0.65,"u":220},{"lat":40,"lp":0.65,"u":220},{"lat":45,"lp":0.65,"u":250},{"lat":50,"lp":0.65,"u":290},{"lat":55,"lp":0.65,"u":300},{"lat":60,"lp":0.65,"u":200},{"lat":65,"lp":0.65,"u":50},{"lat":70,"lp":0.65,"u":-180},{"lat":75,"lp":0.65,"u":-210},{"lat":80,"lp":0.65,"u":-220},{"lat":85,"lp":0.65,"u":-210},
{"lat":-85,"lp":0.9,"u":-200},{"lat":-80,"lp":0.9,"u":-220},{"lat":-75,"lp":0.9,"u":-200},{"lat":-70,"lp":0.9,"u":-100},{"lat":-65,"lp":0.9,"u":80},{"lat":-60,"lp":0.9,"u":250},{"lat":-55,"lp":0.9,"u":320},{"lat":-50,"lp":0.9,"u":230},{"lat":-45,"lp":0.9,"u":150},{"lat":-40,"lp":0.9,"u":60},{"lat":-35,"lp":0.9,"u":-30},{"lat":-30,"lp":0.9,"u":-100},{"lat":-25,"lp":0.9,"u":-110},{"lat":-20,"lp":0.9,"u":-80},{"lat":-15,"lp":0.9,"u":50},{"lat":-10,"lp":0.9,"u":350},{"lat":-5,"lp":0.9,"u":700},{"lat":0,"lp":0.9,"u":1000},{"lat":5,"lp":0.9,"u":800},{"lat":10,"lp":0.9,"u":500},{"lat":15,"lp":0.9,"u":300},{"lat":20,"lp":0.9,"u":220},{"lat":25,"lp":0.9,"u":200},{"lat":30,"lp":0.9,"u":200},{"lat":35,"lp":0.9,"u":200},{"lat":40,"lp":0.9,"u":200},{"lat":45,"lp":0.9,"u":240},{"lat":50,"lp":0.9,"u":290},{"lat":55,"lp":0.9,"u":300},{"lat":60,"lp":0.9,"u":220},{"lat":65,"lp":0.9,"u":20},{"lat":70,"lp":0.9,"u":-150},{"lat":75,"lp":0.9,"u":-200},{"lat":80,"lp":0.9,"u":-200},{"lat":85,"lp":0.9,"u":-200},
{"lat":-85,"lp":1.15,"u":-180},{"lat":-80,"lp":1.15,"u":-200},{"lat":-75,"lp":1.15,"u":-180},{"lat":-70,"lp":1.15,"u":-80},{"lat":-65,"lp":1.15,"u":100},{"lat":-60,"lp":1.15,"u":270},{"lat":-55,"lp":1.15,"u":330},{"lat":-50,"lp":1.15,"u":230},{"lat":-45,"lp":1.15,"u":100},{"lat":-40,"lp":1.15,"u":0},{"lat":-35,"lp":1.15,"u":-120},{"lat":-30,"lp":1.15,"u":-130},{"lat":-25,"lp":1.15,"u":-130},{"lat":-20,"lp":1.15,"u":-130},{"lat":-15,"lp":1.15,"u":-100},{"lat":-10,"lp":1.15,"u":-10},{"lat":-5,"lp":1.15,"u":200},{"lat":0,"lp":1.15,"u":400},{"lat":5,"lp":1.15,"u":350},{"lat":10,"lp":1.15,"u":200},{"lat":15,"lp":1.15,"u":150},{"lat":20,"lp":1.15,"u":130},{"lat":25,"lp":1.15,"u":130},{"lat":30,"lp":1.15,"u":130},{"lat":35,"lp":1.15,"u":140},{"lat":40,"lp":1.15,"u":160},{"lat":45,"lp":1.15,"u":210},{"lat":50,"lp":1.15,"u":270},{"lat":55,"lp":1.15,"u":300},{"lat":60,"lp":1.15,"u":230},{"lat":65,"lp":1.15,"u":-50},{"lat":70,"lp":1.15,"u":-130},{"lat":75,"lp":1.15,"u":-180},{"lat":80,"lp":1.15,"u":-180},{"lat":85,"lp":1.15,"u":-180},
{"lat":-85,"lp":1.4,"u":-170},{"lat":-80,"lp":1.4,"u":-190},{"lat":-75,"lp":1.4,"u":-170},{"lat":-70,"lp":1.4,"u":-60},{"lat":-65,"lp":1.4,"u":110},{"lat":-60,"lp":1.4,"u":280},{"lat":-55,"lp":1.4,"u":330},{"lat":-50,"lp":1.4,"u":230},{"lat":-45,"lp":1.4,"u":80},{"lat":-40,"lp":1.4,"u":-80},{"lat":-35,"lp":1.4,"u":-140},{"lat":-30,"lp":1.4,"u":-150},{"lat":-25,"lp":1.4,"u":-150},{"lat":-20,"lp":1.4,"u":-150},{"lat":-15,"lp":1.4,"u":-150},{"lat":-10,"lp":1.4,"u":-130},{"lat":-5,"lp":1.4,"u":-60},{"lat":0,"lp":1.4,"u":-20},{"lat":5,"lp":1.4,"u":-30},{"lat":10,"lp":1.4,"u":-60},{"lat":15,"lp":1.4,"u":-80},{"lat":20,"lp":1.4,"u":-90},{"lat":25,"lp":1.4,"u":-90},{"lat":30,"lp":1.4,"u":-90},{"lat":35,"lp":1.4,"u":-80},{"lat":40,"lp":1.4,"u":-40},{"lat":45,"lp":1.4,"u":60},{"lat":50,"lp":1.4,"u":220},{"lat":55,"lp":1.4,"u":290},{"lat":60,"lp":1.4,"u":200},{"lat":65,"lp":1.4,"u":-60},{"lat":70,"lp":1.4,"u":-150},{"lat":75,"lp":1.4,"u":-170},{"lat":80,"lp":1.4,"u":-170},{"lat":85,"lp":1.4,"u":-170},
{"lat":-85,"lp":1.65,"u":-170},{"lat":-80,"lp":1.65,"u":-180},{"lat":-75,"lp":1.65,"u":-160},{"lat":-70,"lp":1.65,"u":-50},{"lat":-65,"lp":1.65,"u":110},{"lat":-60,"lp":1.65,"u":280},{"lat":-55,"lp":1.65,"u":320},{"lat":-50,"lp":1.65,"u":200},{"lat":-45,"lp":1.65,"u":40},{"lat":-40,"lp":1.65,"u":-100},{"lat":-35,"lp":1.65,"u":-150},{"lat":-30,"lp":1.65,"u":-160},{"lat":-25,"lp":1.65,"u":-160},{"lat":-20,"lp":1.65,"u":-160},{"lat":-15,"lp":1.65,"u":-160},{"lat":-10,"lp":1.65,"u":-150},{"lat":-5,"lp":1.65,"u":-120},{"lat":0,"lp":1.65,"u":-100},{"lat":5,"lp":1.65,"u":-100},{"lat":10,"lp":1.65,"u":-110},{"lat":15,"lp":1.65,"u":-120},{"lat":20,"lp":1.65,"u":-120},{"lat":25,"lp":1.65,"u":-120},{"lat":30,"lp":1.65,"u":-120},{"lat":35,"lp":1.65,"u":-110},{"lat":40,"lp":1.65,"u":-90},{"lat":45,"lp":1.65,"u":-20},{"lat":50,"lp":1.65,"u":150},{"lat":55,"lp":1.65,"u":250},{"lat":60,"lp":1.65,"u":150},{"lat":65,"lp":1.65,"u":-80},{"lat":70,"lp":1.65,"u":-150},{"lat":75,"lp":1.65,"u":-160},{"lat":80,"lp":1.65,"u":-160},{"lat":85,"lp":1.65,"u":-160},
{"lat":-85,"lp":1.9,"u":-160},{"lat":-80,"lp":1.9,"u":-170},{"lat":-75,"lp":1.9,"u":-150},{"lat":-70,"lp":1.9,"u":-40},{"lat":-65,"lp":1.9,"u":100},{"lat":-60,"lp":1.9,"u":260},{"lat":-55,"lp":1.9,"u":300},{"lat":-50,"lp":1.9,"u":150},{"lat":-45,"lp":1.9,"u":-10},{"lat":-40,"lp":1.9,"u":-110},{"lat":-35,"lp":1.9,"u":-150},{"lat":-30,"lp":1.9,"u":-160},{"lat":-25,"lp":1.9,"u":-160},{"lat":-20,"lp":1.9,"u":-160},{"lat":-15,"lp":1.9,"u":-160},{"lat":-10,"lp":1.9,"u":-150},{"lat":-5,"lp":1.9,"u":-130},{"lat":0,"lp":1.9,"u":-120},{"lat":5,"lp":1.9,"u":-120},{"lat":10,"lp":1.9,"u":-130},{"lat":15,"lp":1.9,"u":-130},{"lat":20,"lp":1.9,"u":-130},{"lat":25,"lp":1.9,"u":-130},{"lat":30,"lp":1.9,"u":-130},{"lat":35,"lp":1.9,"u":-120},{"lat":40,"lp":1.9,"u":-100},{"lat":45,"lp":1.9,"u":-60},{"lat":50,"lp":1.9,"u":60},{"lat":55,"lp":1.9,"u":220},{"lat":60,"lp":1.9,"u":80},{"lat":65,"lp":1.9,"u":-100},{"lat":70,"lp":1.9,"u":-150},{"lat":75,"lp":1.9,"u":-150},{"lat":80,"lp":1.9,"u":-150},{"lat":85,"lp":1.9,"u":-150},
{"lat":-85,"lp":2.15,"u":-150},{"lat":-80,"lp":2.15,"u":-160},{"lat":-75,"lp":2.15,"u":-140},{"lat":-70,"lp":2.15,"u":-40},{"lat":-65,"lp":2.15,"u":80},{"lat":-60,"lp":2.15,"u":200},{"lat":-55,"lp":2.15,"u":220},{"lat":-50,"lp":2.15,"u":60},{"lat":-45,"lp":2.15,"u":-80},{"lat":-40,"lp":2.15,"u":-110},{"lat":-35,"lp":2.15,"u":-140},{"lat":-30,"lp":2.15,"u":-150},{"lat":-25,"lp":2.15,"u":-150},{"lat":-20,"lp":2.15,"u":-150},{"lat":-15,"lp":2.15,"u":-150},{"lat":-10,"lp":2.15,"u":-140},{"lat":-5,"lp":2.15,"u":-130},{"lat":0,"lp":2.15,"u":-120},{"lat":5,"lp":2.15,"u":-120},{"lat":10,"lp":2.15,"u":-130},{"lat":15,"lp":2.15,"u":-130},{"lat":20,"lp":2.15,"u":-130},{"lat":25,"lp":2.15,"u":-130},{"lat":30,"lp":2.15,"u":-130},{"lat":35,"lp":2.15,"u":-120},{"lat":40,"lp":2.15,"u":-110},{"lat":45,"lp":2.15,"u":-80},{"lat":50,"lp":2.15,"u":-10},{"lat":55,"lp":2.15,"u":150},{"lat":60,"lp":2.15,"u":-30},{"lat":65,"lp":2.15,"u":-110},{"lat":70,"lp":2.15,"u":-140},{"lat":75,"lp":2.15,"u":-140},{"lat":80,"lp":2.15,"u":-140},{"lat":85,"lp":2.15,"u":-140},
{"lat":-85,"lp":2.4,"u":-140},{"lat":-80,"lp":2.4,"u":-150},{"lat":-75,"lp":2.4,"u":-130},{"lat":-70,"lp":2.4,"u":-40},{"lat":-65,"lp":2.4,"u":60},{"lat":-60,"lp":2.4,"u":150},{"lat":-55,"lp":2.4,"u":120},{"lat":-50,"lp":2.4,"u":-40},{"lat":-45,"lp":2.4,"u":-90},{"lat":-40,"lp":2.4,"u":-110},{"lat":-35,"lp":2.4,"u":-130},{"lat":-30,"lp":2.4,"u":-140},{"lat":-25,"lp":2.4,"u":-140},{"lat":-20,"lp":2.4,"u":-140},{"lat":-15,"lp":2.4,"u":-140},{"lat":-10,"lp":2.4,"u":-130},{"lat":-5,"lp":2.4,"u":-120},{"lat":0,"lp":2.4,"u":-110},{"lat":5,"lp":2.4,"u":-110},{"lat":10,"lp":2.4,"u":-120},{"lat":15,"lp":2.4,"u":-120},{"lat":20,"lp":2.4,"u":-120},{"lat":25,"lp":2.4,"u":-120},{"lat":30,"lp":2.4,"u":-120},{"lat":35,"lp":2.4,"u":-110},{"lat":40,"lp":2.4,"u":-100},{"lat":45,"lp":2.4,"u":-90},{"lat":50,"lp":2.4,"u":-20},{"lat":55,"lp":2.4,"u":100},{"lat":60,"lp":2.4,"u":-60},{"lat":65,"lp":2.4,"u":-110},{"lat":70,"lp":2.4,"u":-130},{"lat":75,"lp":2.4,"u":-130},{"lat":80,"lp":2.4,"u":-130},{"lat":85,"lp":2.4,"u":-130},
{"lat":-85,"lp":2.65,"u":-130},{"lat":-80,"lp":2.65,"u":-140},{"lat":-75,"lp":2.65,"u":-120},{"lat":-70,"lp":2.65,"u":-50},{"lat":-65,"lp":2.65,"u":20},{"lat":-60,"lp":2.65,"u":80},{"lat":-55,"lp":2.65,"u":-20},{"lat":-50,"lp":2.65,"u":-80},{"lat":-45,"lp":2.65,"u":-100},{"lat":-40,"lp":2.65,"u":-100},{"lat":-35,"lp":2.65,"u":-120},{"lat":-30,"lp":2.65,"u":-130},{"lat":-25,"lp":2.65,"u":-130},{"lat":-20,"lp":2.65,"u":-130},{"lat":-15,"lp":2.65,"u":-130},{"lat":-10,"lp":2.65,"u":-120},{"lat":-5,"lp":2.65,"u":-100},{"lat":0,"lp":2.65,"u":-90},{"lat":5,"lp":2.65,"u":-100},{"lat":10,"lp":2.65,"u":-110},{"lat":15,"lp":2.65,"u":-110},{"lat":20,"lp":2.65,"u":-110},{"lat":25,"lp":2.65,"u":-110},{"lat":30,"lp":2.65,"u":-110},{"lat":35,"lp":2.65,"u":-100},{"lat":40,"lp":2.65,"u":-100},{"lat":45,"lp":2.65,"u":-100},{"lat":50,"lp":2.65,"u":-60},{"lat":55,"lp":2.65,"u":50},{"lat":60,"lp":2.65,"u":-80},{"lat":65,"lp":2.65,"u":-100},{"lat":70,"lp":2.65,"u":-120},{"lat":75,"lp":2.65,"u":-120},{"lat":80,"lp":2.65,"u":-120},{"lat":85,"lp":2.65,"u":-120},
{"lat":-85,"lp":2.9,"u":-110},{"lat":-80,"lp":2.9,"u":-110},{"lat":-75,"lp":2.9,"u":-100},{"lat":-70,"lp":2.9,"u":-70},{"lat":-65,"lp":2.9,"u":-40},{"lat":-60,"lp":2.9,"u":-20},{"lat":-55,"lp":2.9,"u":-40},{"lat":-50,"lp":2.9,"u":-80},{"lat":-45,"lp":2.9,"u":-90},{"lat":-40,"lp":2.9,"u":-90},{"lat":-35,"lp":2.9,"u":-100},{"lat":-30,"lp":2.9,"u":-100},{"lat":-25,"lp":2.9,"u":-100},{"lat":-20,"lp":2.9,"u":-100},{"lat":-15,"lp":2.9,"u":-100},{"lat":-10,"lp":2.9,"u":-90},{"lat":-5,"lp":2.9,"u":-60},{"lat":0,"lp":2.9,"u":-50},{"lat":5,"lp":2.9,"u":-70},{"lat":10,"lp":2.9,"u":-90},{"lat":15,"lp":2.9,"u":-100},{"lat":20,"lp":2.9,"u":-100},{"lat":25,"lp":2.9,"u":-100},{"lat":30,"lp":2.9,"u":-100},{"lat":35,"lp":2.9,"u":-90},{"lat":40,"lp":2.9,"u":-90},{"lat":45,"lp":2.9,"u":-90},{"lat":50,"lp":2.9,"u":-60},{"lat":55,"lp":2.9,"u":-20},{"lat":60,"lp":2.9,"u":-60},{"lat":65,"lp":2.9,"u":-90},{"lat":70,"lp":2.9,"u":-100},{"lat":75,"lp":2.9,"u":-100},{"lat":80,"lp":2.9,"u":-100},{"lat":85,"lp":2.9,"u":-100}
],
"contour":[
{"seg":"a","i":1,"lat":-43.7,"lp":-5.72},{"seg":"a","i":2,"lat":-41.5,"lp":-5.35},{"seg":"a","i":3,"lat":-40.1,"lp":-5.18},{"seg":"a","i":4,"lat":-38.6,"lp":-4.9},{"seg":"a","i":5,"lat":-38.2,"lp":-4.6},{"seg":"a","i":6,"lat":-38.2,"lp":-4.33},{"seg":"a","i":7,"lat":-39.0,"lp":-4.1},{"seg":"a","i":8,"lat":-40.1,"lp":-3.85},{"seg":"a","i":9,"lat":-41.0,"lp":-3.5},{"seg":"a","i":10,"lat":-42.0,"lp":-3.0},{"seg":"a","i":11,"lat":-43.0,"lp":-2.5},{"seg":"a","i":12,"lat":-44.0,"lp":-2.03},{"seg":"a","i":13,"lat":-45.0,"lp":-1.5},{"seg":"a","i":14,"lat":-46.0,"lp":-1.0},{"seg":"a","i":15,"lat":-46.8,"lp":-0.51},{"seg":"a","i":16,"lat":-50.0,"lp":-0.42},{"seg":"a","i":17,"lat":-54.0,"lp":-0.38},{"seg":"a","i":18,"lat":-56.8,"lp":-0.33},{"seg":"a","i":19,"lat":-59.5,"lp":-0.15},{"seg":"a","i":20,"lat":-61.6,"lp":0.03},{"seg":"a","i":21,"lat":-64.0,"lp":0.3},{"seg":"a","i":22,"lat":-66.3,"lp":0.58},{"seg":"a","i":23,"lat":-67.5,"lp":0.88},{"seg":"a","i":24,"lat":-67.4,"lp":1.2},{"seg":"a","i":25,"lat":-67.0,"lp":1.61},{"seg":"a","i":26,"lat":-66.5,"lp":2.1},{"seg":"a","i":27,"lat":-65.6,"lp":2.58},{"seg":"a","i":28,"lat":-64.8,"lp":2.72},{"seg":"a","i":29,"lat":-63.9,"lp":2.77},{"seg":"a","i":30,"lat":-61.5,"lp":2.82},{"seg":"a","i":31,"lat":-59.1,"lp":2.81},{"seg":"a","i":32,"lat":-57.3,"lp":2.78},{"seg":"a","i":33,"lat":-55.6,"lp":2.72},{"seg":"a","i":34,"lat":-54.5,"lp":2.6},{"seg":"a","i":35,"lat":-53.2,"lp":2.45},{"seg":"a","i":36,"lat":-50.5,"lp":2.28},{"seg":"a","i":37,"lat":-48.4,"lp":2.15},{"seg":"a","i":38,"lat":-45.8,"lp":2.0},{"seg":"a","i":39,"lat":-43.7,"lp":1.85},{"seg":"a","i":40,"lat":-42.6,"lp":1.7},{"seg":"a","i":41,"lat":-42.0,"lp":1.49},{"seg":"a","i":42,"lat":-41.3,"lp":1.15},{"seg":"a","i":43,"lat":-39.5,"lp":1.07},{"seg":"a","i":44,"lat":-37.7,"lp":1.03},{"seg":"a","i":45,"lat":-34.1,"lp":0.88},{"seg":"a","i":46,"lat":-31.0,"lp":0.7},{"seg":"a","i":47,"lat":-28.2,"lp":0.56},{"seg":"a","i":48,"lat":-26.5,"lp":0.53},{"seg":"a","i":49,"lat":-24.6,"lp":0.55},{"seg":"a","i":50,"lat":-21.0,"lp":0.72},{"seg":"a","i":51,"lat":-17.5,"lp":0.88},{"seg":"a","i":52,"lat":-13.0,"lp":1.0},{"seg":"a","i":53,"lat":-9.1,"lp":1.12},{"seg":"a","i":54,"lat":-2.0,"lp":1.27},{"seg":"a","i":55,"lat":5.1,"lp":1.36},{"seg":"a","i":56,"lat":10.0,"lp":1.32},{"seg":"a","i":57,"lat":14.6,"lp":1.27},{"seg":"a","i":58,"lat":20.0,"lp":1.24},{"seg":"a","i":59,"lat":26.6,"lp":1.24},{"seg":"a","i":60,"lat":33.0,"lp":1.25},{"seg":"a","i":61,"lat":38.4,"lp":1.27},{"seg":"a","i":62,"lat":41.0,"lp":1.33},{"seg":"a","i":63,"lat":43.2,"lp":1.43},{"seg":"a","i":64,"lat":47.0,"lp":1.6},{"seg":"a","i":65,"lat":50.4,"lp":1.85},{"seg":"a","i":66,"lat":51.4,"lp":2.1},{"seg":"a","i":67,"lat":51.6,"lp":2.34},{"seg":"a","i":68,"lat":52.0,"lp":2.6},{"seg":"a","i":69,"lat":52.7,"lp":2.76},{"seg":"a","i":70,"lat":53.9,"lp":2.81},{"seg":"a","i":71,"lat":55.1,"lp":2.8},{"seg":"a","i":72,"lat":56.5,"lp":2.74},{"seg":"a","i":73,"lat":57.5,"lp":2.64},{"seg":"a","i":74,"lat":57.7,"lp":2.45},{"seg":"a","i":75,"lat":58.0,"lp":2.21},{"seg":"a","i":76,"lat":59.2,"lp":2.02},{"seg":"a","i":77,"lat":61.1,"lp":1.85},{"seg":"a","i":78,"lat":62.4,"lp":1.55},{"seg":"a","i":79,"lat":63.4,"lp":1.24},{"seg":"a","i":80,"lat":64.3,"lp":0.95},{"seg":"a","i":81,"lat":64.6,"lp":0.76},{"seg":"a","i":82,"lat":63.9,"lp":0.5},{"seg":"a","i":83,"lat":62.3,"lp":0.27},{"seg":"a","i":84,"lat":60.5,"lp":-0.1},{"seg":"a","i":85,"lat":58.7,"lp":-0.45},{"seg":"a","i":86,"lat":57.0,"lp":-0.85},{"seg":"a","i":87,"lat":55.1,"lp":-1.3},{"seg":"a","i":88,"lat":53.3,"lp":-1.7},{"seg":"a","i":89,"lat":51.6,"lp":-2.03},{"seg":"a","i":90,"lat":49.8,"lp":-2.4},{"seg":"a","i":91,"lat":48.0,"lp":-2.76},{"seg":"a","i":92,"lat":46.2,"lp":-3.2},{"seg":"a","i":93,"lat":44.4,"lp":-3.6},{"seg":"a","i":94,"lat":42.6,"lp":-3.95},{"seg":"a","i":95,"lat":41.3,"lp":-4.27},{"seg":"a","i":96,"lat":40.4,"lp":-4.69},{"seg":"a","i":97,"lat":41.0,"lp":-4.95},{"seg":"a","i":98,"lat":42.0,"lp":-5.18},{"seg":"a","i":99,"lat":43.8,"lp":-5.45},{"seg":"a","i":100,"lat":45.6,"lp":-5.72},
{"seg":"b1","i":1,"lat":-90,"lp":2.96},{"seg":"b1","i":2,"lat":-69.0,"lp":2.96},
{"seg":"b2","i":1,"lat":-67.5,"lp":2.96},{"seg":"b2","i":2,"lat":-8.5,"lp":2.96},
{"seg":"b3","i":1,"lat":1.8,"lp":2.96},{"seg":"b3","i":2,"lat":90,"lp":2.96},
{"seg":"c","i":1,"lat":-6.8,"lp":2.97},{"seg":"c","i":2,"lat":-7.3,"lp":2.75},{"seg":"c","i":3,"lat":-6.5,"lp":2.63},{"seg":"c","i":4,"lat":-4.0,"lp":2.6},{"seg":"c","i":5,"lat":-1.5,"lp":2.62},{"seg":"c","i":6,"lat":0.2,"lp":2.7},{"seg":"c","i":7,"lat":0.0,"lp":2.82},{"seg":"c","i":8,"lat":-1.6,"lp":2.89},{"seg":"c","i":9,"lat":-1.1,"lp":2.99}
],
"bar":[
{"lo":-3000,"hi":-2500,"mid":-2750},{"lo":-2500,"hi":-2000,"mid":-2250},{"lo":-2000,"hi":-1500,"mid":-1750},{"lo":-1500,"hi":-1000,"mid":-1250},{"lo":-1000,"hi":-500,"mid":-750},{"lo":-500,"hi":0,"mid":-250},
{"lo":0,"hi":342,"mid":171},{"lo":342,"hi":683,"mid":512},{"lo":683,"hi":1025,"mid":854},{"lo":1025,"hi":1367,"mid":1196},{"lo":1367,"hi":1708,"mid":1537},{"lo":1708,"hi":2050,"mid":1879},{"lo":2050,"hi":2392,"mid":2221},{"lo":2392,"hi":2733,"mid":2562},{"lo":2733,"hi":3075,"mid":2904},{"lo":3075,"hi":3417,"mid":3246},{"lo":3417,"hi":3758,"mid":3587},{"lo":3758,"hi":4100,"mid":3929},{"lo":4100,"hi":4442,"mid":4271},{"lo":4442,"hi":4783,"mid":4612},{"lo":4783,"hi":5125,"mid":4954},{"lo":5125,"hi":5467,"mid":5296},{"lo":5467,"hi":5808,"mid":5637},{"lo":5808,"hi":6150,"mid":5979},{"lo":6150,"hi":6492,"mid":6321},{"lo":6492,"hi":6833,"mid":6662},{"lo":6833,"hi":7175,"mid":7004},{"lo":7175,"hi":7517,"mid":7346},{"lo":7517,"hi":7858,"mid":7687},{"lo":7858,"hi":8200,"mid":8029}
],
"ends":[{"end":"over","v":8200,"u":9000},{"end":"under","v":-3000,"u":-3500}]
},
"hconcat":[
{
"width":252,"height":247.5,
"resolve":{"axis":{"y":"independent"}},
"layer":[
{"data":{"name":"field"},
"mark":{"type":"rect","width":7.3,"height":7.2,"clip":true},
"encoding":{
"x":{"field":"lat","type":"quantitative","scale":{"domain":[-90,90],"nice":false,"zero":false},
"axis":{"values":[-80,-60,-40,-20,0,20,40,60,80],"tickCount":20,"labelExpr":"'' + datum.value","title":"Latitude [ ° ]","titlePadding":5,"labelOverlap":false}},
"y":{"field":"lp","type":"quantitative","scale":{"domain":[-6,3],"reverse":true,"nice":false,"zero":false},
"axis":{"orient":"left","values":[-6,-5,-4,-3,-2,-1,0,1,2,3],"tickCount":20,
"labelExpr":"datum.value == -6 ? '10⁻⁶' : datum.value == -5 ? '10⁻⁵' : datum.value == -4 ? '10⁻⁴' : datum.value == -3 ? '10⁻³' : datum.value == -2 ? '0.01' : datum.value == -1 ? '0.1' : datum.value == 0 ? '1' : datum.value == 1 ? '10' : datum.value == 2 ? '100' : '1000'",
"labelOverlap":false,"tickSize":3.5,
"title":"pgas [bar]","titlePadding":5}},
"color":{"field":"u","type":"quantitative","legend":null,
"scale":{"type":"threshold","domain":[-3000,-2500,-2000,-1500,-1000,-500,0,342,683,1025,1367,1708,2050,2392,2733,3075,3417,3758,4100,4442,4783,5125,5467,5808,6150,6492,6833,7175,7517,7858,8200],
"range":["#053061","#11477f","#2a71b2","#4a97c5","#8bc1dc","#c1dded","#e7f0f5","#f8f4f2","#f9eee8","#fae8de","#fbe3d4","#fdddca","#fcd3bd","#fac8af","#f8bda0","#f6b192","#f4a683","#ee9878","#e88a6d","#e27b62","#dc6d57","#d55f4c","#ce5045","#c6403e","#bf3237","#b72330","#ad162a","#9e1228","#8e0d25","#7e0823","#6f0320","#67001f"]}}
}},
{"data":{"name":"contour"},
"mark":{"type":"line","color":"#000","strokeWidth":1.3,"clip":true},
"encoding":{"x":{"field":"lat","type":"quantitative"},
"y":{"field":"lp","type":"quantitative","axis":{"orient":"left","tickCount":100,"values":[-5.699,-5.523,-5.398,-5.301,-5.222,-5.155,-5.097,-5.046,-4.699,-4.523,-4.398,-4.301,-4.222,-4.155,-4.097,-4.046,-3.699,-3.523,-3.398,-3.301,-3.222,-3.155,-3.097,-3.046,-2.699,-2.523,-2.398,-2.301,-2.222,-2.155,-2.097,-2.046,-1.699,-1.523,-1.398,-1.301,-1.222,-1.155,-1.097,-1.046,-0.699,-0.523,-0.398,-0.301,-0.222,-0.155,-0.097,-0.046,0.301,0.477,0.602,0.699,0.778,0.845,0.903,0.954,1.301,1.477,1.602,1.699,1.778,1.845,1.903,1.954,2.301,2.477,2.602,2.699,2.778,2.845,2.903,2.954],"labels":false,"tickSize":2.2,"tickWidth":0.8,"tickColor":"#000","title":null,"domain":false}},
"detail":{"field":"seg"},"order":{"field":"i","type":"quantitative"}}}
]
},
{
"width":14,"height":247.5,"view":{"stroke":null},
"layer":[
{"data":{"name":"bar"},
"mark":{"type":"rect"},
"encoding":{
"y":{"field":"lo","type":"quantitative","scale":{"domain":[-3000,0,8200],"range":[243.5,180.3,7.3],"nice":false,"zero":false},
"axis":{"orient":"right","values":[-2500,-2000,-1500,-1000,-500,0,1000,2000,3000,4000,5000,6000,7000,8000],"tickCount":30,"labelExpr":"'' + datum.value","labelFontSize":10.5,"labelPadding":2,"labelOverlap":false,"domain":true,"domainColor":"#333","domainWidth":0.8,"title":"u [m s⁻¹]","titleAngle":-90,"titleBaseline":"top","titlePadding":2}},
"y2":{"field":"hi"},
"color":{"field":"mid","type":"quantitative","legend":null,
"scale":{"type":"threshold","domain":[-3000,-2500,-2000,-1500,-1000,-500,0,342,683,1025,1367,1708,2050,2392,2733,3075,3417,3758,4100,4442,4783,5125,5467,5808,6150,6492,6833,7175,7517,7858,8200],
"range":["#053061","#11477f","#2a71b2","#4a97c5","#8bc1dc","#c1dded","#e7f0f5","#f8f4f2","#f9eee8","#fae8de","#fbe3d4","#fdddca","#fcd3bd","#fac8af","#f8bda0","#f6b192","#f4a683","#ee9878","#e88a6d","#e27b62","#dc6d57","#d55f4c","#ce5045","#c6403e","#bf3237","#b72330","#ad162a","#9e1228","#8e0d25","#7e0823","#6f0320","#67001f"]}}
}},
{"data":{"name":"ends"},
"mark":{"type":"point","filled":true,"size":196,"opacity":1,"strokeWidth":0},
"encoding":{
"y":{"field":"v","type":"quantitative"},
"shape":{"field":"end","type":"nominal","legend":null,"scale":{"domain":["over","under"],"range":["M-1,0L1,0L0,-1.7Z","M-1,0L1,0L0,1.7Z"]}},
"color":{"field":"u","type":"quantitative","legend":null,
"scale":{"type":"threshold","domain":[-3000,-2500,-2000,-1500,-1000,-500,0,342,683,1025,1367,1708,2050,2392,2733,3075,3417,3758,4100,4442,4783,5125,5467,5808,6150,6492,6833,7175,7517,7858,8200],
"range":["#053061","#11477f","#2a71b2","#4a97c5","#8bc1dc","#c1dded","#e7f0f5","#f8f4f2","#f9eee8","#fae8de","#fbe3d4","#fdddca","#fcd3bd","#fac8af","#f8bda0","#f6b192","#f4a683","#ee9878","#e88a6d","#e27b62","#dc6d57","#d55f4c","#ce5045","#c6403e","#bf3237","#b72330","#ad162a","#9e1228","#8e0d25","#7e0823","#6f0320","#67001f"]}}
}}
]
}
]
}
